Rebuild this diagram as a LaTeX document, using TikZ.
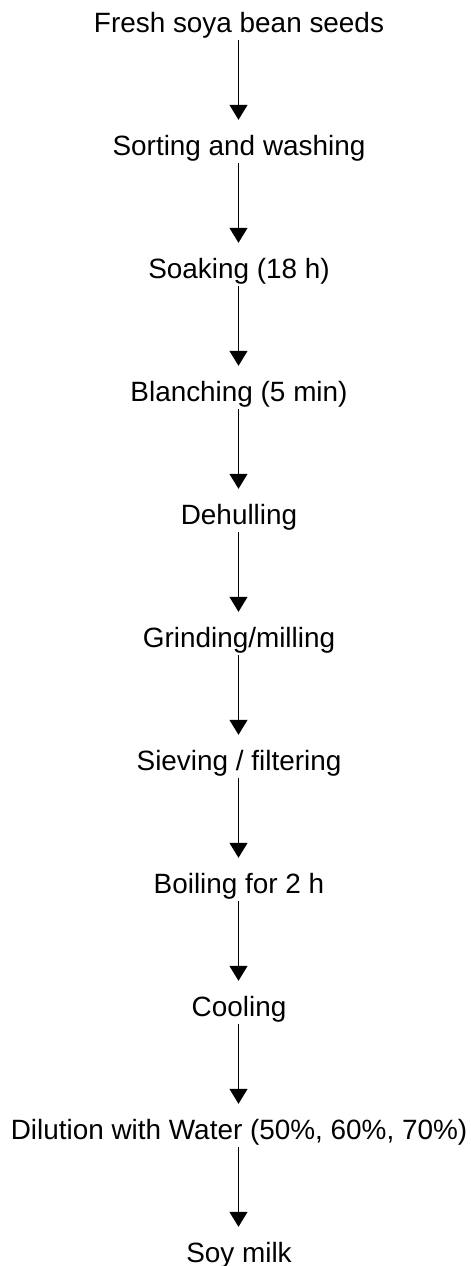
\documentclass[tikz,border=0pt]{standalone}
\usepackage{fontspec}
\setmainfont{Liberation Sans}
\usetikzlibrary{arrows.meta}
\begin{document}
\begin{tikzpicture}[x=1pt,y=-1pt,
  stage/.style={anchor=base,inner sep=0pt,text height=20pt,text depth=0pt,font=\fontsize{27.9}{33}\selectfont},
  flow/.style={line width=1.3pt,-{Triangle[width=18pt,length=15pt]},shorten <=8pt,shorten >=15pt}]
\useasboundingbox (0,0) rectangle (471,1266);
\node[stage] (n0) at (239,32) {Fresh soya bean seeds};
\node[stage] (n1) at (239,155) {Sorting and washing};
\node[stage] (n2) at (239,278) {Soaking (18 h)};
\node[stage] (n3) at (239,401) {Blanching (5 min)};
\node[stage] (n4) at (239,524) {Dehulling};
\node[stage] (n5) at (239,647) {Grinding/milling};
\node[stage] (n6) at (239,770) {Sieving / filtering};
\node[stage] (n7) at (239,893) {Boiling for 2 h};
\node[stage] (n8) at (239,1016) {Cooling};
\node[stage] (n9) at (239,1139) {Dilution with Water (50\%, 60\%, 70\%)};
\node[stage] (n10) at (239,1262) {Soy milk};
\foreach \a/\b in {n0/n1,n1/n2,n2/n3,n3/n4,n4/n5,n5/n6,n6/n7,n7/n8,n8/n9,n9/n10}
  \draw[flow] (\a.south -| 238.5,0) -- (\b.north -| 238.5,0);
\end{tikzpicture}
\end{document}
